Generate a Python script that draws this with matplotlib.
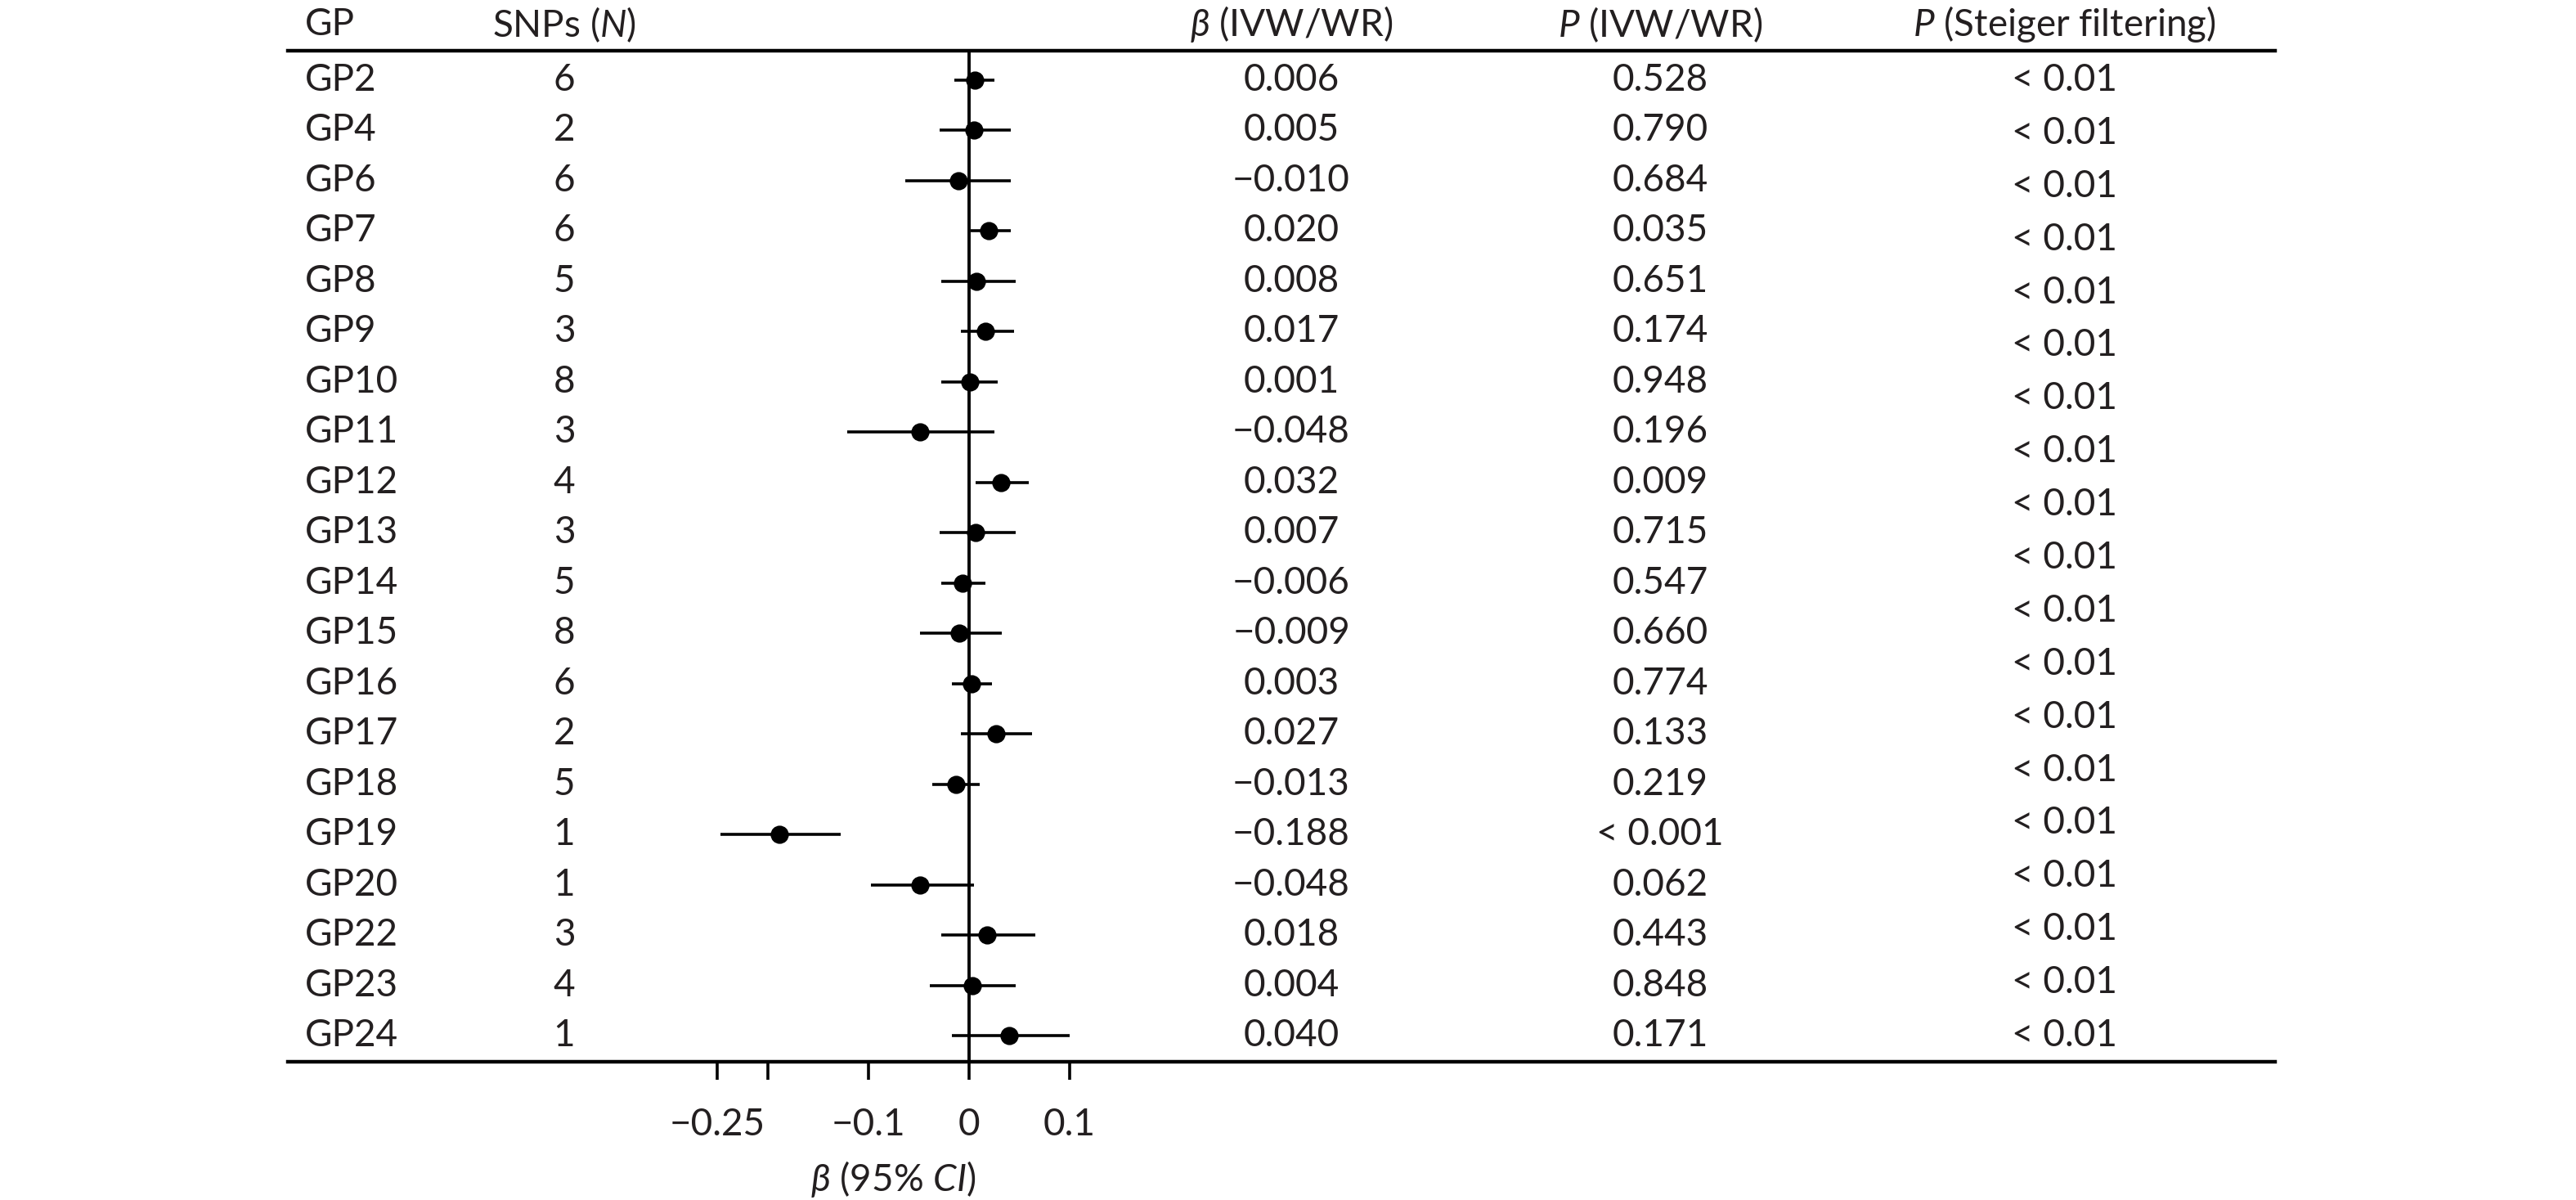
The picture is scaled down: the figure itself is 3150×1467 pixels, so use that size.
import numpy as np
import matplotlib
matplotlib.use("Agg")
import matplotlib.pyplot as plt
from matplotlib.transforms import blended_transform_factory

# Forest plot table: MR estimates per GP trait

plt.rcParams['font.family'] = ['Lato', 'DejaVu Sans']
plt.rcParams['mathtext.fontset'] = 'custom'
plt.rcParams['mathtext.rm'] = 'Lato'
plt.rcParams['mathtext.it'] = 'Lato:italic'
plt.rcParams['mathtext.bf'] = 'Lato:bold'
plt.rcParams['mathtext.fallback'] = 'stixsans'

gp_names = ['GP2', 'GP4', 'GP6', 'GP7', 'GP8', 'GP9', 'GP10', 'GP11', 'GP12', 'GP13',
            'GP14', 'GP15', 'GP16', 'GP17', 'GP18', 'GP19', 'GP20', 'GP22', 'GP23', 'GP24']
snp_counts = [6, 2, 6, 6, 5, 3, 8, 3, 4, 3, 5, 8, 6, 2, 5, 1, 1, 3, 4, 1]
beta = [0.006, 0.005, -0.010, 0.020, 0.008, 0.017, 0.001, -0.048, 0.032, 0.007,
        -0.006, -0.009, 0.003, 0.027, -0.013, -0.188, -0.048, 0.018, 0.004, 0.040]
ci_low = [-0.014, -0.029, -0.063, 0.002, -0.027, -0.008, -0.027, -0.121, 0.007, -0.029,
          -0.027, -0.048, -0.017, -0.008, -0.036, -0.247, -0.097, -0.027, -0.039, -0.017]
ci_high = [0.026, 0.042, 0.042, 0.042, 0.047, 0.045, 0.029, 0.026, 0.060, 0.047,
           0.017, 0.033, 0.023, 0.063, 0.011, -0.127, 0.005, 0.066, 0.047, 0.100]
p_ivw = ['0.528', '0.790', '0.684', '0.035', '0.651', '0.174', '0.948', '0.196', '0.009', '0.715',
         '0.547', '0.660', '0.774', '0.133', '0.219', '< 0.001', '0.062', '0.443', '0.848', '0.171']
# the source figure lists 19 Steiger entries spread over the 20 rows
p_steiger = ['< 0.01'] * 19

tick_values = [-0.25, -0.2, -0.1, 0, 0.1]
tick_labels = ['\u22120.25', '', '\u22120.1', '0', '0.1']

headers = ['GP', r'SNPs ($N$)', r'$\beta$ (IVW/WR)', r'$P$ (IVW/WR)', r'$P$ (Steiger filtering)']

TXT = '#231f20'
FS = 16.5
W, H = 3150, 1467

fig = plt.figure(figsize=(W / 200, H / 200), dpi=200)
line_left, line_right, line_top, line_bottom = 352, 2782, 62, 1298
ax = fig.add_axes([line_left / W, 1 - line_bottom / H,
                   (line_right - line_left) / W, (line_bottom - line_top) / H])

zero_px, px_per_unit = 1184.5, 1230
ax.set_xlim((line_left - zero_px) / px_per_unit, (line_right - zero_px) / px_per_unit)
n = len(gp_names)
row_px = 61.47
ax.set_ylim(n - 1 + 32 / row_px, -36 / row_px)

y = np.arange(n)
ax.axvline(0, color='black', lw=1.4, zorder=1)
ax.hlines(y, ci_low, ci_high, color='black', lw=1.3, zorder=2)
ax.plot(beta, y, 'o', ms=7, color='black', zorder=3)

for side in ['left', 'right']:
    ax.spines[side].set_visible(False)
for side in ['top', 'bottom']:
    ax.spines[side].set_linewidth(1.6)
ax.set_yticks([])
ax.set_xticks(tick_values)
ax.set_xticklabels(tick_labels, fontsize=FS, color=TXT)
ax.tick_params(axis='x', direction='out', length=8, width=1.3, pad=12)

# table columns: x in figure fraction, y in data rows
trans = blended_transform_factory(fig.transFigure, ax.transData)
col_x = [373 / W, 690 / W, 1579 / W, 2030 / W, 2524 / W]
col_ha = ['left', 'center', 'center', 'center', 'center']
header_y = (30 - 98) / row_px

for x, ha, head in zip(col_x, col_ha, headers):
    ax.text(x, header_y, head, transform=trans, ha=ha, va='center', fontsize=FS, color=TXT)

for i in range(n):
    ax.text(col_x[0], i, gp_names[i], transform=trans, ha='left', va='center', fontsize=FS, color=TXT)
    ax.text(col_x[1], i, str(snp_counts[i]), transform=trans, ha='center', va='center', fontsize=FS, color=TXT)
    b_txt = f"{beta[i]:.3f}".replace('-', '\u2212')
    ax.text(col_x[2], i, b_txt, transform=trans, ha='center', va='center', fontsize=FS, color=TXT)
    ax.text(col_x[3], i, p_ivw[i], transform=trans, ha='center', va='center', fontsize=FS, color=TXT)

for yy, txt in zip(np.linspace(0, n - 1, len(p_steiger)), p_steiger):
    ax.text(col_x[4], yy, txt, transform=trans, ha='center', va='center', fontsize=FS, color=TXT)

# x-axis title centred under the tick range
xlab_trans = blended_transform_factory(ax.transData, fig.transFigure)
ax.text((tick_values[0] + tick_values[-1]) / 2, 1 - 1442 / H, r'$\beta$ (95% $CI$)',
        transform=xlab_trans, ha='center', va='center', fontsize=FS, color=TXT)

fig.savefig('out.png', dpi=200, facecolor='white')
